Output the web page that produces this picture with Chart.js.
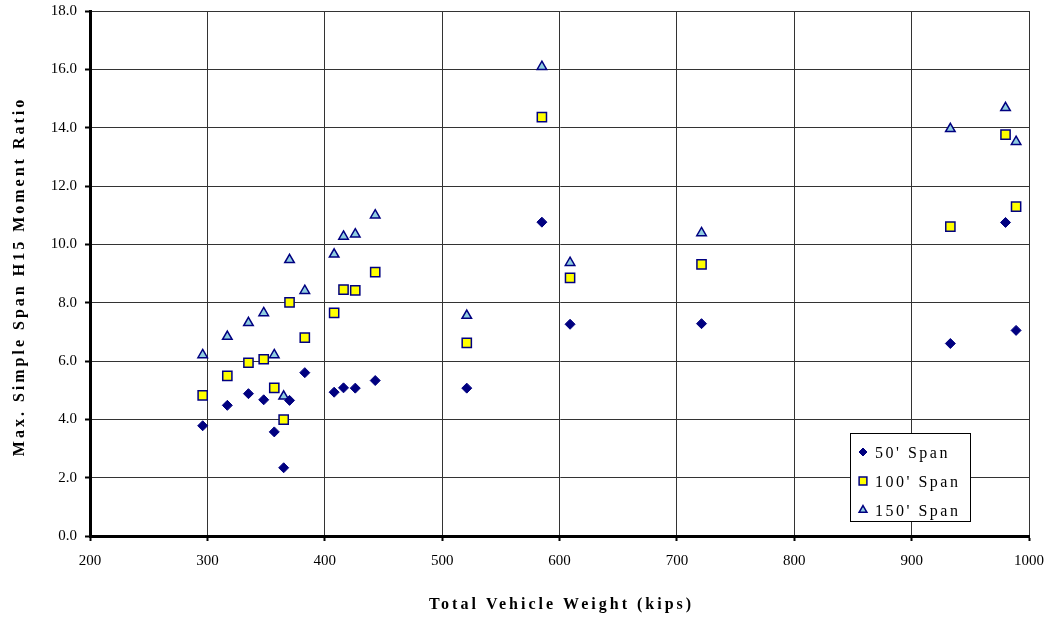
<!DOCTYPE html>
<html>
<head>
<meta charset="utf-8">
<script src="https://cdn.jsdelivr.net/npm/chart.js@4/dist/chart.umd.min.js"></script>
<style>
  html, body { margin: 0; padding: 0; background: #fff; }
  #wrap { width: 1055px; height: 619px; }
</style>
</head>
<body>
<div id="wrap"><canvas id="chart" width="1055" height="619"></canvas></div>
<script>
// vehicle weights (kips) and moment ratios per span length
const weights = [296, 317, 335, 348, 357, 365, 370, 383, 408, 416, 426, 443, 521, 585, 609, 721, 933, 980, 989];
const span50 = [3.78, 4.48, 4.88, 4.67, 3.57, 2.34, 4.65, 5.6, 4.93, 5.08, 5.07, 5.33, 5.07, 10.76, 7.26, 7.28, 6.6, 10.75, 7.05];
const span100 = [4.82, 5.49, 5.94, 6.06, 5.08, 3.99, 8.01, 6.8, 7.65, 8.45, 8.42, 9.05, 6.62, 14.36, 8.85, 9.31, 10.61, 13.76, 11.29];
const span150 = [6.21, 6.84, 7.31, 7.65, 6.21, 4.79, 9.47, 8.41, 9.66, 10.27, 10.35, 11.0, 7.56, 16.09, 9.37, 10.39, 13.96, 14.68, 13.52];
const seriesLabels = ["50' Span", "100' Span", "150' Span"];
const xTitle = 'Total Vehicle Weight (kips)';
const yTitle = 'Max. Simple Span H15 Moment Ratio';

const serif = "'Liberation Serif', 'Times New Roman', serif";
const navy = '#000080';

function toPoints(ys) {
  return weights.map((w, i) => ({ x: w, y: ys[i] }));
}

// axis titles drawn by hand so they can get the wide letter spacing of the original
const spacedTitles = {
  id: 'spacedTitles',
  afterDraw(chart) {
    const ctx = chart.ctx;
    const area = chart.chartArea;
    ctx.save();
    ctx.letterSpacing = '3px';
    ctx.font = 'bold 16px ' + serif;
    ctx.fillStyle = '#000';
    ctx.textAlign = 'center';
    ctx.textBaseline = 'middle';
    ctx.fillText(xTitle, (area.left + area.right) / 2 + 2, 605);
    ctx.translate(20, (area.top + area.bottom) / 2 + 3);
    ctx.rotate(-Math.PI / 2);
    ctx.fillText(yTitle, 0, 0);
    ctx.restore();
  }
};

// legend box drawn inside the plot area, lower right
const boxLegend = {
  id: 'boxLegend',
  afterDraw(chart) {
    const ctx = chart.ctx;
    const left = 850, top = 433, w = 120, h = 88;
    ctx.save();
    ctx.fillStyle = '#fff';
    ctx.fillRect(left, top, w, h);
    ctx.strokeStyle = '#000';
    ctx.lineWidth = 1;
    ctx.strokeRect(left + 0.5, top + 0.5, w, h);
    ctx.letterSpacing = '2.5px';
    ctx.font = '16px ' + serif;
    ctx.textBaseline = 'middle';
    chart.data.datasets.forEach((ds, i) => {
      const y = top + 20 + i * 29;
      ctx.fillStyle = ds.pointBackgroundColor;
      ctx.strokeStyle = ds.pointBorderColor;
      ctx.lineWidth = ds.pointBorderWidth;
      Chart.helpers.drawPoint(ctx, { pointStyle: ds.pointStyle, radius: ds.pointRadius - 1, borderWidth: ds.pointBorderWidth }, left + 13, y - 1);
      ctx.fillStyle = '#000';
      ctx.fillText(ds.label, left + 25, y + 1);
    });
    ctx.restore();
  }
};

new Chart(document.getElementById('chart').getContext('2d'), {
  type: 'scatter',
  data: {
    datasets: [
      {
        label: seriesLabels[0],
        data: toPoints(span50),
        pointStyle: 'rectRot',
        pointRadius: 5,
        pointBackgroundColor: navy,
        pointBorderColor: navy,
        pointBorderWidth: 1
      },
      {
        label: seriesLabels[1],
        data: toPoints(span100),
        pointStyle: 'rect',
        pointRadius: 6.5,
        pointBackgroundColor: '#ffff00',
        pointBorderColor: navy,
        pointBorderWidth: 1.5
      },
      {
        label: seriesLabels[2],
        data: toPoints(span150),
        pointStyle: 'triangle',
        pointRadius: 5.5,
        pointBackgroundColor: '#8fcde0',
        pointBorderColor: navy,
        pointBorderWidth: 1.5
      }
    ]
  },
  options: {
    responsive: false,
    animation: false,
    layout: { padding: { top: 11, right: 25, bottom: 4, left: 4 } },
    plugins: {
      legend: { display: false },
      tooltip: { enabled: false }
    },
    scales: {
      x: {
        type: 'linear',
        min: 200,
        max: 1000,
        ticks: {
          stepSize: 100,
          color: '#000',
          font: { family: serif, size: 15 },
          padding: 11,
          callback: v => String(v)
        },
        grid: { color: '#333', lineWidth: 1, tickLength: 5, tickColor: '#000', tickWidth: 2 },
        border: { color: '#000', width: 3 },
        afterFit(scale) { scale.height = 79; }
      },
      y: {
        min: 0,
        max: 18,
        ticks: {
          stepSize: 2,
          color: '#000',
          font: { family: serif, size: 15 },
          padding: 8,
          callback: v => v.toFixed(1)
        },
        grid: { color: '#333', lineWidth: 1, tickLength: 5, tickColor: '#000', tickWidth: 2 },
        border: { color: '#000', width: 3 },
        afterFit(scale) {
          scale.width = 86;
          scale.paddingTop = 0;
          scale.paddingBottom = 0;
        }
      }
    }
  },
  plugins: [spacedTitles, boxLegend]
});
</script>
</body>
</html>
